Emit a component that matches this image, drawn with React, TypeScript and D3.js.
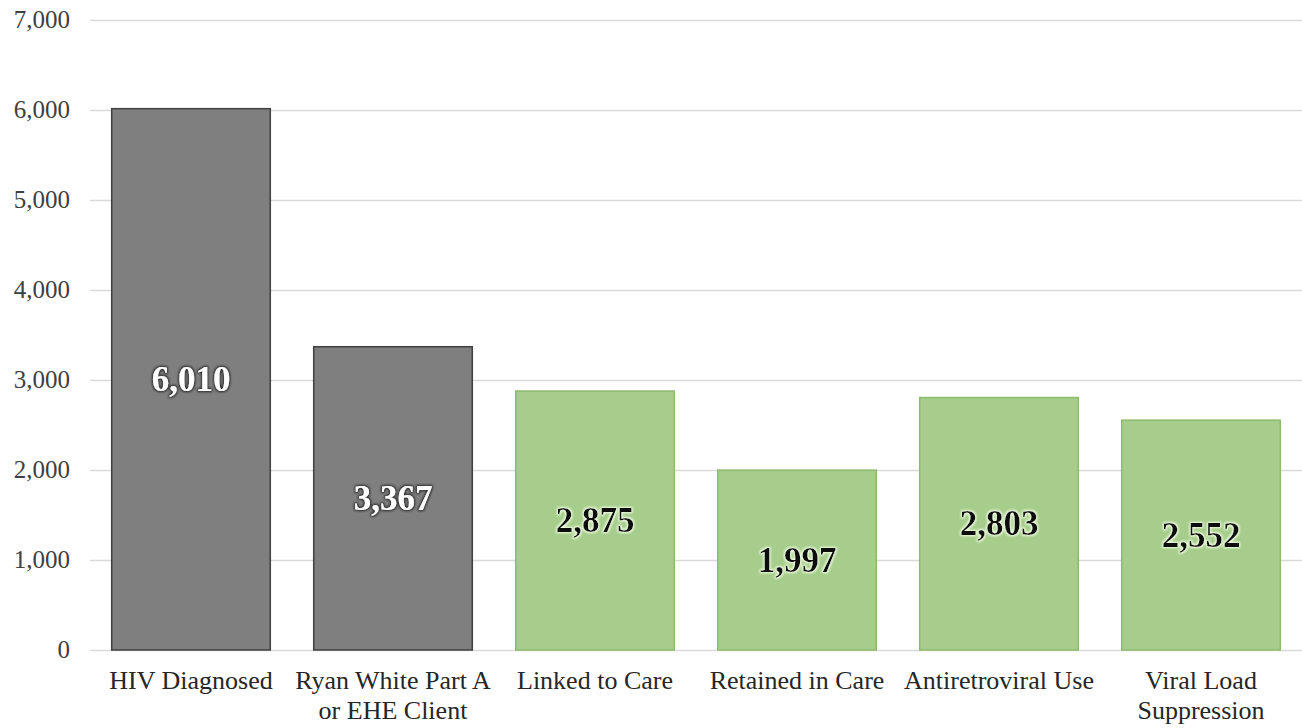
import { useEffect, useRef } from 'react';
import * as d3 from 'd3';

const categories = [
  ['HIV Diagnosed'],
  ['Ryan White Part A', 'or EHE Client'],
  ['Linked to Care'],
  ['Retained in Care'],
  ['Antiretroviral Use'],
  ['Viral Load', 'Suppression'],
];
const values = [6010, 3367, 2875, 1997, 2803, 2552];
const kinds = ['gray', 'gray', 'green', 'green', 'green', 'green'];
const yTicks = [0, 1000, 2000, 3000, 4000, 5000, 6000, 7000];

const W = 1302;
const H = 728;
const FONT = "'Liberation Serif', 'Times New Roman', Times, serif";

export default function App() {
  const svgRef = useRef<SVGSVGElement>(null);

  useEffect(() => {
    if (!svgRef.current) return;
    const svg = d3.select(svgRef.current);
    svg.selectAll('*').remove();

    const left = 90, right = 1302, top = 19.5, bottom = 650;

    const x = d3.scaleBand<number>()
      .domain(d3.range(values.length))
      .range([left, right])
      .paddingInner(0.21)
      .paddingOuter(0.105);

    const y = d3.scaleLinear().domain([0, 7000]).range([bottom, top]);

    const defs = svg.append('defs');
    const mkGlow = (id: string, color: string, op: number) => {
      const f = defs.append('filter').attr('id', id)
        .attr('x', '-20%').attr('y', '-30%').attr('width', '140%').attr('height', '160%');
      f.append('feMorphology').attr('in', 'SourceAlpha').attr('operator', 'dilate').attr('radius', 0.8).attr('result', 'd');
      f.append('feGaussianBlur').attr('in', 'd').attr('stdDeviation', 1.3).attr('result', 'b');
      f.append('feFlood').attr('flood-color', color).attr('flood-opacity', op);
      f.append('feComposite').attr('in2', 'b').attr('operator', 'in').attr('result', 'g');
      const m = f.append('feMerge');
      m.append('feMergeNode').attr('in', 'g');
      m.append('feMergeNode').attr('in', 'SourceGraphic');
    };
    mkGlow('darkGlow', '#222', 0.9);
    mkGlow('lightGlow', '#f4ffe8', 1);

    // gridlines
    svg.append('g')
      .selectAll('line')
      .data(yTicks)
      .join('line')
      .attr('x1', left)
      .attr('x2', right)
      .attr('y1', d => Math.round(y(d)) + 0.5)
      .attr('y2', d => Math.round(y(d)) + 0.5)
      .attr('stroke', '#d9d9d9')
      .attr('stroke-width', 1.5);

    // y labels
    svg.append('g')
      .selectAll('text')
      .data(yTicks)
      .join('text')
      .attr('x', 70)
      .attr('y', d => y(d))
      .attr('dy', '0.33em')
      .attr('text-anchor', 'end')
      .style('font-family', FONT)
      .attr('font-size', 25)
      .attr('fill', '#404040')
      .text(d => d3.format(',')(d));

    // bars
    svg.append('g')
      .selectAll('rect')
      .data(values)
      .join('rect')
      .attr('x', (_, i) => x(i)! + 0.5)
      .attr('y', d => y(d))
      .attr('width', x.bandwidth() - 1)
      .attr('height', d => bottom - y(d))
      .attr('fill', (_, i) => kinds[i] === 'gray' ? '#7f7f7f' : '#a6cd8b')
      .attr('stroke', (_, i) => kinds[i] === 'gray' ? '#404040' : '#8dbb6e')
      .attr('stroke-width', 1.5);

    // value labels
    svg.append('g')
      .selectAll('text')
      .data(values)
      .join('text')
      .attr('x', (_, i) => x(i)! + x.bandwidth() / 2)
      .attr('y', d => (y(d) + bottom) / 2)
      .attr('dy', '0.33em')
      .attr('text-anchor', 'middle')
      .style('font-family', FONT)
      .attr('font-weight', 'bold')
      .attr('font-size', 35)
      .attr('fill', (_, i) => kinds[i] === 'gray' ? '#ffffff' : '#111111')
      .attr('filter', (_, i) => kinds[i] === 'gray' ? 'url(#darkGlow)' : 'url(#lightGlow)')
      .text(d => d3.format(',')(d));

    // category labels
    const cat = svg.append('g')
      .selectAll('text')
      .data(categories)
      .join('text')
      .attr('x', (_, i) => x(i)! + x.bandwidth() / 2)
      .attr('y', 689)
      .attr('text-anchor', 'middle')
      .style('font-family', FONT)
      .attr('font-size', 26)
      .attr('fill', '#262626');
    cat.selectAll('tspan')
      .data(d => d)
      .join('tspan')
      .attr('x', function () {
        return (this.parentNode as SVGTextElement).getAttribute('x');
      })
      .attr('dy', (_, j) => j === 0 ? 0 : 30)
      .text(d => d);
  }, []);

  return (
    <svg
      ref={svgRef}
      width={W}
      height={H}
      style={{ position: 'absolute', left: 0, top: 0, background: '#fff', fontFamily: FONT }}
    />
  );
}
